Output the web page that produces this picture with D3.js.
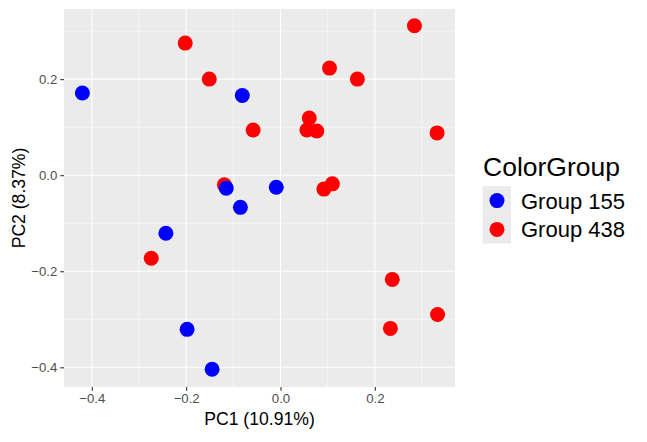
<!DOCTYPE html>
<html><head><meta charset="utf-8">
<script src="https://cdn.jsdelivr.net/npm/d3@7"></script>
<style>body{margin:0;background:#fff;} text{font-family:"Liberation Sans",Arial,sans-serif;}</style>
</head><body>
<svg id="c" width="647" height="442"></svg>
<script>
const groups = ["Group 155", "Group 438"];
const groupColors = ["#0000FF", "#FF0000"];
const g155x = [-0.420, -0.081, -0.115, -0.009, -0.085, -0.243, -0.198, -0.145];
const g155y = [0.171, 0.166, -0.027, -0.025, -0.067, -0.121, -0.321, -0.404];
const g438x = [-0.202, -0.151, -0.058, -0.119, 0.061, 0.056, 0.077, 0.092, 0.110, 0.104, 0.163, 0.284, 0.332, -0.274, 0.237, 0.333, 0.233];
const g438y = [0.275, 0.200, 0.094, -0.020, 0.119, 0.094, 0.092, -0.029, -0.018, 0.223, 0.200, 0.311, 0.088, -0.173, -0.217, -0.290, -0.319];
const xTicks = [-0.4, -0.2, 0.0, 0.2];
const yTicks = [-0.4, -0.2, 0.0, 0.2];
const xMinor = [-0.3, -0.1, 0.1, 0.3];
const yMinor = [-0.3, -0.1, 0.1, 0.3];
const xTitle = "PC1 (10.91%)";
const yTitle = "PC2 (8.37%)";
const legendTitle = "ColorGroup";

const svg = d3.select("#c");
const L = 64, R = 455, T = 9, B = 387;
const x = d3.scaleLinear().domain([-0.459, 0.370]).range([L, R]);
const y = d3.scaleLinear().domain([-0.441, 0.346]).range([B, T]);

svg.append("rect").attr("x", L).attr("y", T).attr("width", R - L).attr("height", B - T).attr("fill", "#EBEBEB");
const grid = svg.append("g");
xMinor.forEach(v => grid.append("line").attr("x1", x(v)).attr("x2", x(v)).attr("y1", T).attr("y2", B).attr("stroke", "#fff").attr("stroke-width", 0.55));
yMinor.forEach(v => grid.append("line").attr("y1", y(v)).attr("y2", y(v)).attr("x1", L).attr("x2", R).attr("stroke", "#fff").attr("stroke-width", 0.55));
xTicks.forEach(v => grid.append("line").attr("x1", x(v)).attr("x2", x(v)).attr("y1", T).attr("y2", B).attr("stroke", "#fff").attr("stroke-width", 1.1));
yTicks.forEach(v => grid.append("line").attr("y1", y(v)).attr("y2", y(v)).attr("x1", L).attr("x2", R).attr("stroke", "#fff").attr("stroke-width", 1.1));

const fmt = d3.format(".1f");
const xAxis = d3.axisBottom(x).tickValues(xTicks).tickFormat(fmt).tickSize(3.7).tickPadding(3);
const yAxis = d3.axisLeft(y).tickValues(yTicks).tickFormat(fmt).tickSize(3.7).tickPadding(3);
const gx = svg.append("g").attr("transform", `translate(0,${B})`).call(xAxis);
const gy = svg.append("g").attr("transform", `translate(${L},0)`).call(yAxis);
[gx, gy].forEach(g => {
  g.select(".domain").remove();
  g.selectAll(".tick line").attr("stroke", "#333333").attr("stroke-width", 1.1);
  g.selectAll(".tick text").attr("fill", "#4D4D4D").style("font-size", "13.2px").style("font-family", "Liberation Sans, Arial, sans-serif");
});

svg.append("text").attr("x", (L + R) / 2).attr("y", 424.5).attr("text-anchor", "middle").style("font-size", "17.6px").attr("fill", "#000").text(xTitle);
svg.append("text").attr("transform", `translate(24.5,${(T + B) / 2}) rotate(-90)`).attr("text-anchor", "middle").style("font-size", "17.6px").attr("fill", "#000").text(yTitle);

const pts = svg.append("g");
const series = [
  {xs: g438x, ys: g438y, color: groupColors[1]},
  {xs: g155x, ys: g155y, color: groupColors[0]}
];
series.forEach(s => {
  pts.selectAll(null).data(d3.range(s.xs.length)).enter().append("circle")
    .attr("cx", i => x(s.xs[i])).attr("cy", i => y(s.ys[i])).attr("r", 7.5).attr("fill", s.color);
});

// legend
const lg = svg.append("g");
lg.append("text").attr("x", 483).attr("y", 175.5).style("font-size", "26.5px").attr("fill", "#000").text(legendTitle);
groups.forEach((gname, i) => {
  const ky = 186 + i * 28.8;
  lg.append("rect").attr("x", 482.5).attr("y", ky).attr("width", 28.5).attr("height", 28.8).attr("fill", "#EBEBEB");
  lg.append("circle").attr("cx", 497).attr("cy", ky + 14.6).attr("r", 7.5).attr("fill", groupColors[i]);
  lg.append("text").attr("x", 521).attr("y", ky + 22.5).style("font-size", "22px").attr("fill", "#000").text(gname);
});
</script>
</body></html>
